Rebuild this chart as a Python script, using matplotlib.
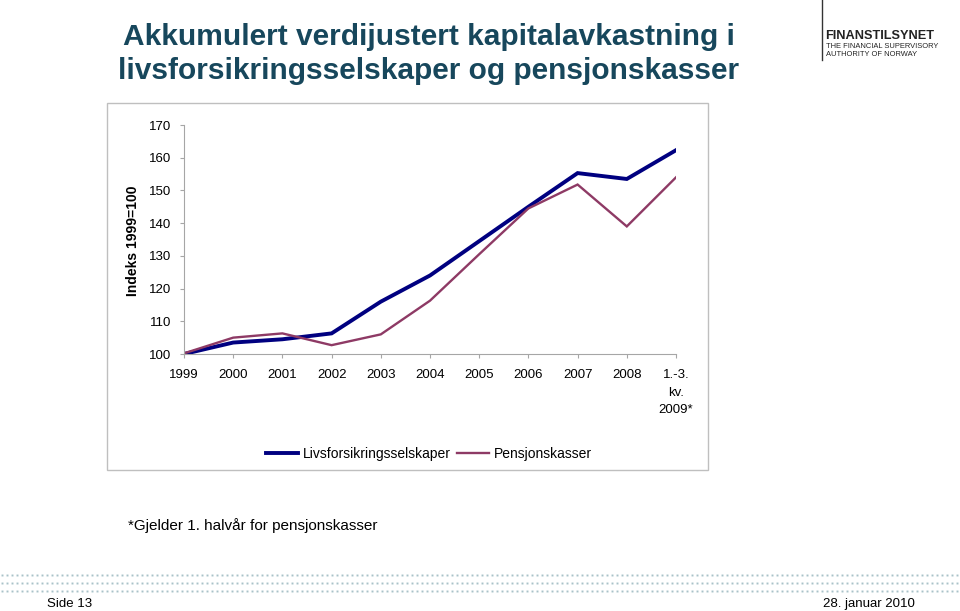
import numpy as np
import matplotlib
matplotlib.use('Agg')
import matplotlib.pyplot as plt
from matplotlib.patches import Rectangle
from matplotlib.lines import Line2D

plt.rcParams['font.family'] = ['Liberation Sans', 'DejaVu Sans']

# Data
labels = ['1999', '2000', '2001', '2002', '2003', '2004', '2005', '2006',
          '2007', '2008', '1.-3.\nkv.\n2009*']
livs = [100.0, 103.5, 104.5, 106.3, 116.0, 124.0, 134.5, 145.0, 155.3, 153.5, 162.3]
pens = [100.2, 105.0, 106.3, 102.7, 106.0, 116.3, 130.5, 144.5, 151.8, 139.0, 154.0]
yticks = [100, 110, 120, 130, 140, 150, 160, 170]

W, H = 960, 611
fig = plt.figure(figsize=(W / 100, H / 100), dpi=100)

def fx(px):
    return px / W

def fy(py):
    return 1 - py / H

# chart frame
fig.patches.append(Rectangle((fx(107), fy(470)), fx(708) - fx(107), fy(103) - fy(470),
                             transform=fig.transFigure, fill=False,
                             edgecolor='#bfbfbf', linewidth=1))

ax = fig.add_axes([fx(184), fy(354), fx(676) - fx(184), fy(125) - fy(354)])
x = np.arange(len(labels))
l1, = ax.plot(x, livs, color='#000080', linewidth=2.8, solid_joinstyle='miter')
l2, = ax.plot(x, pens, color='#8e3a65', linewidth=1.7, solid_joinstyle='miter')
ax.set_xlim(0, len(labels) - 1)
ax.set_ylim(100, 170)
ax.set_yticks(yticks)
ax.set_xticks(x)
ax.set_xticklabels(labels, fontsize=9.5, linespacing=1.6)
ax.tick_params(axis='y', labelsize=9.5, length=3, color='#a6a6a6', pad=6)
ax.tick_params(axis='x', length=3, color='#a6a6a6', pad=8)
for s in ['top', 'right']:
    ax.spines[s].set_visible(False)
for s in ['left', 'bottom']:
    ax.spines[s].set_color('#a6a6a6')
    ax.spines[s].set_linewidth(0.8)
ax.patch.set_alpha(0)

fig.text(fx(133), fy(241), 'Indeks 1999=100', rotation=90, fontsize=10,
         fontweight='bold', ha='center', va='center')

leg = fig.legend([l1, l2], ['Livsforsikringsselskaper', 'Pensjonskasser'],
                 loc='center', bbox_to_anchor=(fx(429), fy(454)), ncol=2,
                 frameon=False, fontsize=10, handlelength=2.3, columnspacing=0.5,
                 handletextpad=0.3)

# title
fig.text(fx(429), fy(37), 'Akkumulert verdijustert kapitalavkastning i',
         fontsize=21.5, fontweight='bold', color='#17475c', ha='center', va='center')
fig.text(fx(429), fy(71), 'livsforsikringsselskaper og pensjonskasser',
         fontsize=21.5, fontweight='bold', color='#17475c', ha='center', va='center')

# logo
fig.add_artist(Line2D([fx(822), fx(822)], [fy(0), fy(60)], color='#333333',
                      linewidth=1, transform=fig.transFigure))
fig.text(fx(825), fy(36), 'FINANSTILSYNET', fontsize=9.2, fontweight='bold',
         ha='left', va='center', color='#222222')
fig.text(fx(826), fy(46), 'THE FINANCIAL SUPERVISORY', fontsize=5.4,
         ha='left', va='center', color='#222222')
fig.text(fx(826), fy(54), 'AUTHORITY OF NORWAY', fontsize=5.4,
         ha='left', va='center', color='#222222')

# footnote
fig.text(fx(128), fy(526), '*Gjelder 1. halvår for pensjonskasser', fontsize=11,
         ha='left', va='center')

# dotted band
dx = np.arange(2, W, 5)
for row in [575, 583, 591]:
    fig.add_artist(Line2D(fx(dx), np.full(dx.shape, fy(row)), linestyle='none',
                          marker='s', markersize=1.4, color='#a9c2c9',
                          markeredgewidth=0, transform=fig.transFigure))

fig.text(fx(47), fy(604), 'Side 13', fontsize=9.5, ha='left', va='center')
fig.text(fx(915), fy(604), '28. januar 2010', fontsize=9.5, ha='right', va='center')

fig.savefig('out.png', dpi=100)
